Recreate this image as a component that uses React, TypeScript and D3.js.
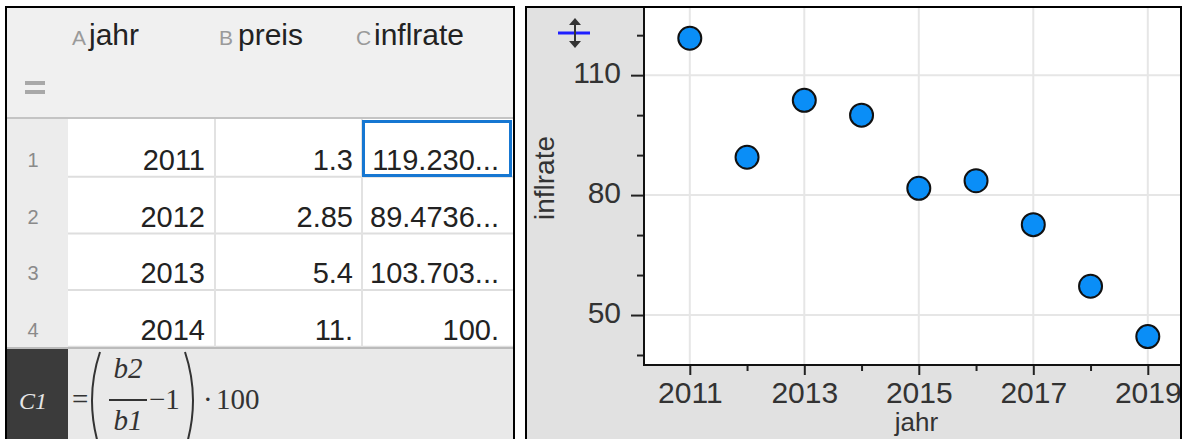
import * as d3 from 'd3';
import React, { useEffect, useRef } from 'react';

// spreadsheet (left)
const jahr = ['2011', '2012', '2013', '2014'];
const preis = ['1.3', '2.85', '5.4', '11.'];
const inflrateCells = ['119.230...', '89.4736...', '103.703...', '100.'];
const columns = [
    { letter: 'A', name: 'jahr' },
    { letter: 'B', name: 'preis' },
    { letter: 'C', name: 'inflrate' },
];

// scatter plot (right)
const years = [2011, 2012, 2013, 2014, 2015, 2016, 2017, 2018, 2019];
const inflrate = [119.23, 89.47, 103.7, 100, 81.7, 83.6, 72.6, 57.2, 44.6];
const xTicks = [2011, 2013, 2015, 2017, 2019];
const xMinorTicks = [2012, 2014, 2016, 2018];
const yTicks = [50, 80, 110];
const yMinorTicks = [40, 60, 70, 90, 100, 120];

const W = 1182;
const H = 439;
const sans = "'Liberation Sans', Arial, sans-serif";
const serif = "'Liberation Serif', 'Times New Roman', serif";

const Sheet = () => {
    const rowTop = 120;
    const rowH = 56.7;
    const letterX = [72, 219, 356];
    const nameX = [89, 238, 374];
    return (
        <g>
            {/* header + equals row */}
            <rect x={7} y={8} width={506} height={110} fill="#f0f0f0" />
            <line x1={7} x2={513} y1={118} y2={118} stroke="#c4c4c4" strokeWidth={2} />
            {columns.map((c, i) => (
                <g key={c.name}>
                    <text x={letterX[i]} y={45} fontFamily={sans} fontSize={21} fill="#9a9a9a">
                        {c.letter}
                    </text>
                    <text x={nameX[i]} y={45} fontFamily={sans} fontSize={30} fill="#222">
                        {c.name}
                    </text>
                </g>
            ))}
            <rect x={25} y={81} width={20} height={4} fill="#a8a8a8" />
            <rect x={25} y={90} width={20} height={4} fill="#a8a8a8" />

            {/* data rows */}
            <rect x={7} y={119} width={61} height={229} fill="#ececec" />
            <rect x={68} y={119} width={445} height={229} fill="#ffffff" />
            {jahr.map((_, r) => (
                <line
                    key={'h' + r}
                    x1={68}
                    x2={513}
                    y1={rowTop + (r + 1) * rowH}
                    y2={rowTop + (r + 1) * rowH}
                    stroke="#dedede"
                    strokeWidth={2}
                />
            ))}
            {[215, 362].map((x) => (
                <line key={'v' + x} x1={x} x2={x} y1={119} y2={348} stroke="#e2e2e2" strokeWidth={2} />
            ))}
            {jahr.map((j, r) => {
                const base = 170 + r * rowH;
                return (
                    <g key={'r' + r} fontFamily={sans} fontSize={29} fill="#222">
                        <text x={33} y={base - 3} fontSize={20} fill="#8a8a8a" textAnchor="middle">
                            {r + 1}
                        </text>
                        <text x={205} y={base} textAnchor="end">
                            {j}
                        </text>
                        <text x={353} y={base} textAnchor="end">
                            {preis[r]}
                        </text>
                        <text x={499} y={base} textAnchor="end">
                            {inflrateCells[r]}
                        </text>
                    </g>
                );
            })}
            <rect x={363.5} y={121.5} width={147} height={54} fill="none" stroke="#1677d2" strokeWidth={3} />

            {/* formula bar */}
            <rect x={7} y={348} width={506} height={95} fill="#e9e9e9" />
            <line x1={7} x2={513} y1={348} y2={348} stroke="#bbbbbb" strokeWidth={2} />
            <rect x={7} y={349} width={61} height={95} fill="#3b3b3b" />
            <text x={33} y={409} fontFamily={serif} fontStyle="italic" fontSize={24} fill="#e6e6e6" textAnchor="middle">
                C1
            </text>
            <g fontFamily={serif} fontSize={29} fill="#333">
                <text x={72} y={409}>=</text>
                <path d="M100,352 Q84,400 100,450" fill="none" stroke="#333" strokeWidth={2} />
                <text x={128} y={378} fontStyle="italic" textAnchor="middle">b2</text>
                <line x1={109} x2={147} y1={400} y2={400} stroke="#333" strokeWidth={2} />
                <text x={128} y={430} fontStyle="italic" textAnchor="middle">b1</text>
                <text x={149} y={409}>−1</text>
                <path d="M185,352 Q201,400 185,450" fill="none" stroke="#333" strokeWidth={2} />
                <text x={203} y={409}>·</text>
                <text x={216} y={409}>100</text>
            </g>
            <rect x={6} y={7} width={508} height={440} fill="none" stroke="#000" strokeWidth={2} />
        </g>
    );
};

const Plot = () => {
    const ref = useRef<SVGGElement>(null);
    const left = 644;
    const right = 1181;
    const top = 8;
    const bottom = 365;

    useEffect(() => {
        const x = d3.scaleLinear().domain([2010.2, 2019.58]).range([left, right]);
        const y = d3.scaleLinear().domain([37.5, 126.8]).range([bottom, top]);
        const g = d3.select(ref.current);
        g.selectAll('*').remove();

        // grid
        g.selectAll('.vgrid')
            .data(xTicks)
            .join('line')
            .attr('x1', (d) => x(d))
            .attr('x2', (d) => x(d))
            .attr('y1', top)
            .attr('y2', bottom)
            .attr('stroke', '#e6e6e6')
            .attr('stroke-width', 2);
        g.selectAll('.hgrid')
            .data(yTicks)
            .join('line')
            .attr('x1', left)
            .attr('x2', right)
            .attr('y1', (d) => y(d))
            .attr('y2', (d) => y(d))
            .attr('stroke', '#e6e6e6')
            .attr('stroke-width', 2);

        // axes
        const xAxis = g.append('g').attr('transform', `translate(0,${bottom})`);
        xAxis.call(d3.axisBottom(x).tickValues(xTicks).tickSize(10).tickPadding(7).tickFormat(d3.format('d')));
        const xMinor = g.append('g').attr('transform', `translate(0,${bottom})`);
        xMinor.call(d3.axisBottom(x).tickValues(xMinorTicks).tickSize(6).tickFormat(() => ''));
        const yAxis = g.append('g').attr('transform', `translate(${left},0)`);
        yAxis.call(d3.axisLeft(y).tickValues(yTicks).tickSize(13).tickPadding(10).tickFormat(d3.format('d')));
        const yMinor = g.append('g').attr('transform', `translate(${left},0)`);
        yMinor.call(d3.axisLeft(y).tickValues(yMinorTicks).tickSize(7).tickFormat(() => ''));

        g.selectAll('.domain').remove();
        g.selectAll('.tick line').attr('stroke', '#222').attr('stroke-width', 2);
        g.selectAll('.tick text')
            .attr('font-family', sans)
            .attr('font-size', 30)
            .attr('fill', '#333');
        yAxis.selectAll('.tick text').attr('dy', '0.26em');

        g.append('line')
            .attr('x1', left)
            .attr('x2', left)
            .attr('y1', top - 1)
            .attr('y2', bottom + 1)
            .attr('stroke', '#111')
            .attr('stroke-width', 2);
        g.append('line')
            .attr('x1', left - 1)
            .attr('x2', right)
            .attr('y1', bottom)
            .attr('y2', bottom)
            .attr('stroke', '#111')
            .attr('stroke-width', 2);

        // points
        g.selectAll('.pt')
            .data(years)
            .join('circle')
            .attr('cx', (d) => x(d))
            .attr('cy', (d, i) => y(inflrate[i]))
            .attr('r', 11.5)
            .attr('fill', '#0a8ef7')
            .attr('stroke', '#111')
            .attr('stroke-width', 2);

        // axis titles
        g.append('text')
            .attr('x', (left + right) / 2 + 4)
            .attr('y', 431)
            .attr('text-anchor', 'middle')
            .attr('font-family', sans)
            .attr('font-size', 26)
            .attr('fill', '#333')
            .text('jahr');
        g.append('text')
            .attr('transform', `translate(554,178) rotate(-90)`)
            .attr('text-anchor', 'middle')
            .attr('font-family', sans)
            .attr('font-size', 28)
            .attr('fill', '#333')
            .text('inflrate');
    }, []);

    return (
        <g>
            <defs>
                <clipPath id="rightPanel">
                    <rect x={526} y={7} width={656} height={432} />
                </clipPath>
            </defs>
            <rect x={526} y={7} width={660} height={432} fill="#e1e1e1" />
            <rect x={left} y={top} width={right - left} height={bottom - top} fill="#fff" />
            <g clipPath="url(#rightPanel)" ref={ref} />
            {/* zoom/scale handle */}
            <line x1={558} x2={590} y1={33} y2={33} stroke="#1f1fff" strokeWidth={3} />
            <line x1={575} x2={575} y1={22} y2={44} stroke="#333" strokeWidth={2} />
            <path d="M569,25 L575,18 L581,25 Z" fill="#333" />
            <path d="M569,41 L575,48 L581,41 Z" fill="#333" />
            <line x1={526} x2={1182} y1={7} y2={7} stroke="#000" strokeWidth={2} />
            <line x1={526} x2={526} y1={6} y2={439} stroke="#000" strokeWidth={2} />
            <line x1={1181} x2={1181} y1={6} y2={439} stroke="#000" strokeWidth={2} />
        </g>
    );
};

export default function App() {
    return (
        <div style={{ position: 'absolute', left: 0, top: 0 }}>
            <svg width={W} height={H} style={{ display: 'block', background: '#fff' }}>
                <Sheet />
                <Plot />
            </svg>
        </div>
    );
}
